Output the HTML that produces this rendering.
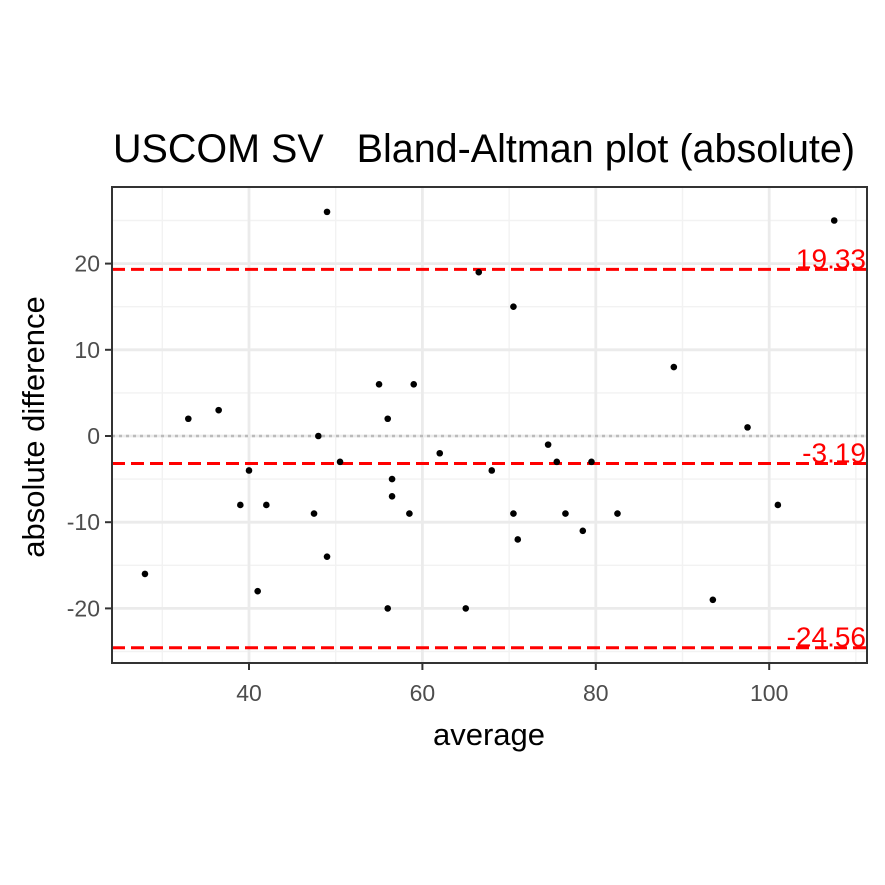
<!DOCTYPE html>
<html><head><meta charset="utf-8"><style>body{margin:0;background:#fff}svg{display:block}</style></head>
<body>
<svg id="c" width="885" height="885" xmlns="http://www.w3.org/2000/svg" font-family="Liberation Sans, sans-serif"></svg>
<script>
const xs=[28,33,36.5,39,40,41,42,47.5,48,49,49,50.5,55,56,56,56.5,56.5,58.5,59,62,65,66.5,68,70.5,70.5,71,74.5,75.5,76.5,78.5,79.5,82.5,89,93.5,97.5,101,107.5];
const ys=[-16,2,3,-8,-4,-18,-8,-9,0,26,-14,-3,6,2,-20,-5,-7,-9,6,-2,-20,19,-4,15,-9,-12,-1,-3,-9,-11,-3,-9,8,-19,1,-8,25];
const limits=[19.33,-3.19,-24.56];
const limitLabels=["19.33","-3.19","-24.56"];
const xTicks=[40,60,80,100];
const yTicks=[-20,-10,0,10,20];
const L=112,R=867,T=187,B=663;
const X=v=>249+(v-40)*8.67;
const Y=v=>436-v*8.62;
const s=document.getElementById('c');const NS='http://www.w3.org/2000/svg';
function el(t,a,p){const e=document.createElementNS(NS,t);for(const k in a)e.setAttribute(k,a[k]);(p||s).appendChild(e);return e;}
const g=el('g',{});


[30,50,70,90,110].forEach(v=>el('line',{x1:X(v),x2:X(v),y1:T,y2:B,stroke:'#f2f2f2','stroke-width':1.4},g));
[-25,-15,-5,5,15,25].forEach(v=>el('line',{x1:L,x2:R,y1:Y(v),y2:Y(v),stroke:'#f2f2f2','stroke-width':1.4},g));
xTicks.forEach(v=>el('line',{x1:X(v),x2:X(v),y1:T,y2:B,stroke:'#ebebeb','stroke-width':2.8},g));
yTicks.forEach(v=>el('line',{x1:L,x2:R,y1:Y(v),y2:Y(v),stroke:'#ebebeb','stroke-width':2.8},g));
const z=el('line',{x1:L,x2:R,y1:Y(0),y2:Y(0),stroke:'#bbb','stroke-width':2.4,'stroke-dasharray':'3,4'});


limits.forEach((v,i)=>{
 const l=el('line',{x1:L,x2:R,y1:Y(v),y2:Y(v),stroke:'#ff0000','stroke-width':3,'stroke-dasharray':'13,6'});
 
 
 const t=el('text',{x:866,y:Y(v)-1,'text-anchor':'end','font-size':28,fill:'#ff0000'});
 t.textContent=limitLabels[i];
 
 
});
xs.forEach((x,i)=>{
 const c=el('circle',{cx:X(x),cy:Y(ys[i]),r:3.3,fill:'#000'});
 
 
});
const f=el('rect',{x:L,y:T,width:R-L,height:B-T,fill:'none',stroke:'#333','stroke-width':2});


xTicks.forEach(v=>{el('line',{x1:X(v),x2:X(v),y1:B,y2:B+7,stroke:'#333','stroke-width':2});
 const t=el('text',{x:X(v),y:B+38,'text-anchor':'middle','font-size':23,fill:'#4d4d4d'});t.textContent=v;
 
 });
yTicks.forEach(v=>{el('line',{x1:L-7,x2:L,y1:Y(v),y2:Y(v),stroke:'#333','stroke-width':2});
 const t=el('text',{x:L-12,y:Y(v)+8,'text-anchor':'end','font-size':23,fill:'#4d4d4d'});t.textContent=v;
 
 });
let t=el('text',{x:489,y:745,'text-anchor':'middle','font-size':31});t.textContent='average';


t=el('text',{x:0,y:0,'text-anchor':'middle','font-size':31,transform:'translate(44,427) rotate(-90)'});t.textContent='absolute difference';


t=el('text',{x:113,y:162,'font-size':39.5});t.textContent='USCOM SV   Bland-Altman plot (absolute)';
t.setAttribute('xml:space','preserve');t.style.whiteSpace='pre';


</script>
</body></html>
